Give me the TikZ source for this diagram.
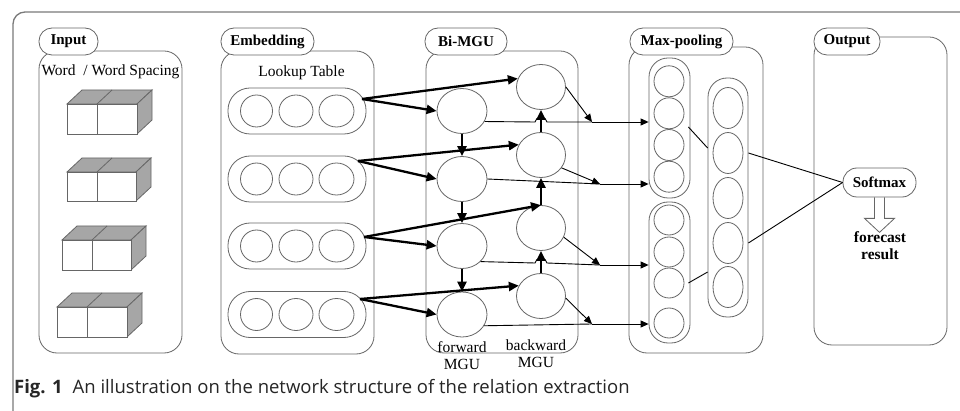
\documentclass[tikz,border=0pt]{standalone}
\usepackage{fontspec}
\setmainfont{Liberation Serif}
\newfontfamily\capfont{Open Sans}
\usetikzlibrary{arrows.meta,shapes.geometric,calc}
\definecolor{lg}{HTML}{666666}
\definecolor{cubegray}{HTML}{A6A6A6}
\definecolor{framegray}{HTML}{7A7A7A}
\newcommand\mycube[5]{%
  \draw[lg, line width=0.8pt, fill=cubegray] (#1,#2) -- (#1+15,#2-14) -- (#3+15,#2-14) -- (#3,#2) -- cycle;
  \draw[lg, line width=0.8pt, fill=cubegray] (#3,#2) -- (#3+15,#2-14) -- (#3+15,#4-14) -- (#3,#4) -- cycle;
  \draw[lg, line width=0.8pt, fill=white] (#1,#2) rectangle (#3,#4);
  \draw[lg, line width=0.8pt] (#5,#2) -- (#5,#4);
  \draw[lg, line width=0.8pt] (#5,#2) -- (#5+15,#2-14);
}
\tikzset{
  box/.style={draw=lg, line width=0.8pt, rounded corners=18pt, inner sep=0pt},
  lab/.style={draw=lg, fill=white, line width=0.8pt, rounded corners=13pt, minimum height=27pt, inner sep=0pt, font=\fontsize{15}{15}\selectfont\bfseries},
  pillrow/.style={draw=lg, line width=0.8pt, rounded corners=22pt, minimum width=138pt, minimum height=46pt, inner sep=0pt},
  vpill/.style={draw=lg, line width=0.8pt, rounded corners=19pt, inner sep=0pt},
  cell/.style={draw=lg, line width=0.8pt, ellipse, inner sep=0pt},
  txt/.style={font=\fontsize{15.5}{17}\selectfont, inner sep=0pt, align=center},
  tk/.style={line width=2.3pt, -{Triangle[length=10pt,width=9pt]}},
  tn/.style={line width=0.9pt, -{Triangle[length=8pt,width=7pt]}},
  tnl/.style={line width=0.9pt},
}
\begin{document}
\begin{tikzpicture}[x=1pt,y=-1pt]
\useasboundingbox (0,0) rectangle (960,411);
\fill[white] (0,0) rectangle (960,411);
% outer frame
\draw[framegray, line width=1.3pt, rounded corners=12pt] (13,411) -- (13,12) -- (960,12);

% containers
\node[box, minimum width=143pt, minimum height=302pt] (Cin) at (110.5,202) {};
\node[box, minimum width=153pt, minimum height=303pt] (Cemb) at (297.5,202.5) {};
\node[box, minimum width=152pt, minimum height=302pt] (Cmgu) at (502,202) {};
\node[box, minimum width=134pt, minimum height=306pt] (Cmp) at (696,200) {};
\node[box, minimum width=133pt, minimum height=308pt] (Cout) at (880.5,191) {};

% labels
\node[lab, minimum width=59pt] (Lin) at (68.5,41.5) {Input};
\node[lab, minimum width=93pt] (Lemb) at (267.5,41.5) {Embedding};
\node[lab, minimum width=82pt] (Lmgu) at (466,41.5) {Bi-MGU};
\node[lab, minimum width=103pt] (Lmp) at (681.5,41.5) {Max-pooling};
\node[lab, minimum width=66pt] (Lout) at (847,41.5) {Output};

% input
\node[txt] (wtxt) at (110.5,72) {Word\ \ / Word Spacing};
\mycube{67}{104}{137}{134}{97}
\mycube{67}{172}{136}{201}{97}
\mycube{62}{240}{131}{270}{92}
\mycube{57}{307}{127}{337}{87}

% embedding
\node[txt] (ltxt) at (301.5,73) {Lookup Table};
\foreach \i/\y in {1/111,2/179,3/246,4/314.5}{
  \node[pillrow] (e\i) at (297,\y) {};
  \node[cell, minimum width=32pt, minimum height=32pt] (e\i a) at (256.5,\y) {};
  \node[cell, minimum width=34pt, minimum height=32pt] (e\i b) at (296,\y) {};
  \node[cell, minimum width=35pt, minimum height=32pt] (e\i c) at (336.5,\y) {};
}

% Bi-MGU cells
\foreach \i/\y in {1/111,2/179,3/246,4/314.5}{
  \node[cell, minimum width=50pt, minimum height=45pt] (f\i) at (462,\y) {};
}
\foreach \i/\y in {1/87,2/155,3/228,4/296}{
  \node[cell, minimum width=49pt, minimum height=45pt] (b\i) at (541,\y) {};
}
\node[txt] (fwt) at (462,356) {forward\\MGU};
\node[txt] (bwt) at (536,354) {backward\\MGU};

% max pooling
\node[vpill, minimum width=41pt, minimum height=140pt] (A) at (669.5,128) {};
\node[vpill, minimum width=41pt, minimum height=141pt] (B) at (669.5,272.5) {};
\node[vpill, minimum width=40pt, minimum height=239pt] (C) at (728,197.5) {};
\foreach \i/\y in {1/81.3,2/113.3,3/145,4/176.7}{
  \node[cell, minimum width=30pt, minimum height=31pt] (a\i) at (669,\y) {};
}
\foreach \i/\y in {1/220,2/252,3/283,4/323}{
  \node[cell, minimum width=30pt, minimum height=30pt] (p\i) at (669,\y) {};
}
\foreach \i/\y in {1/108,2/153,3/198,4/243,5/287}{
  \node[cell, minimum width=30pt, minimum height=41pt] (c\i) at (728,\y) {};
}

% output
\node[lab, minimum width=73pt, minimum height=29pt, rounded corners=14pt] (sm) at (879.5,182.5) {Softmax};
\draw[lg, line width=0.8pt] ($(sm.south)+(-5,0)$) -- ++(0,21) -- ++(-10,0) -- ++(15,14) -- ++(15,-14) -- ++(-10,0) -- ++(0,-21);
\node[txt, font=\fontsize{15.5}{17}\selectfont\bfseries] (res) at (880,246) {forecast\\result};

% thick arrows
\coordinate (s1) at (362,99);
\coordinate (s2) at (358,161);
\coordinate (s3) at (364,237);
\coordinate (s4) at (360,299);
\draw[tk] (s1) -- (f1.west);
\draw[tk] (s1) -- (b1.160);
\draw[tk] (s2) -- (f2.west);
\draw[tk] (s2) -- (b2.155);
\draw[tk] (s3) -- (f3.west);
\draw[tk] (s3) -- (b3.north);
\draw[tk] (s4) -- (f4.west);
\draw[tk] (s4) -- (b4.155);
\draw[tk] (f1.south) -- (f2.north);
\draw[tk] (f2.south) -- (f3.north);
\draw[tk] (f3.south) -- (f4.north);
\draw[tk] (b2.north) -- (b1.south);
\draw[tk] (b3.north) -- (b2.south);
\draw[tk] (b4.north) -- (b3.south);

% thin lines
\coordinate (m1) at (592,122);
\coordinate (m2) at (600,184);
\coordinate (m3) at (600,265);
\coordinate (m4) at (592,324);
\draw[tnl] (f1.-25) -- (535,122) .. controls (535,116) and (547,116) .. (547,122) -- (m1);
\draw[tnl] (f2.east) -- (m2);
\draw[tnl] (f3.-40) -- (535,263) .. controls (535,257) and (547,257) .. (547,263) -- (m3);
\draw[tnl] (f4.-27) -- (m4);
\draw[tn] (b1.east) -- (m1);
\draw[tn] (b2.-32) -- (m2);
\draw[tn] (b3.-22) -- (m3);
\draw[tn] (b4.-5) -- (m4);
\draw[tn] (m1) -- (m1 -| A.west);
\draw[tn] (m2) -- (m2 -| A.west);
\draw[tn] (m3) -- (m3 -| B.west);
\draw[tn] (m4) -- (m4 -| B.west);

\draw[tnl] ($(A.east)+(-2,-1)$) -- ($(C.west)+(0,-49.5)$);
\draw[tnl] ($(B.east)+(-2,10.5)$) -- ($(C.west)+(0,74.5)$);
\draw[tnl] (c2 -| C.east) -- (sm.west);
\draw[tnl] (c4 -| C.east) -- (sm.west);

% caption
\node[anchor=base west, inner sep=0pt, text=black!85] (cap) at (14,393) {\capfont\fontsize{18.5}{18.5}\selectfont\textbf{Fig. 1}\hspace{10pt}An illustration on the network structure of the relation extraction};
\end{tikzpicture}
\end{document}
